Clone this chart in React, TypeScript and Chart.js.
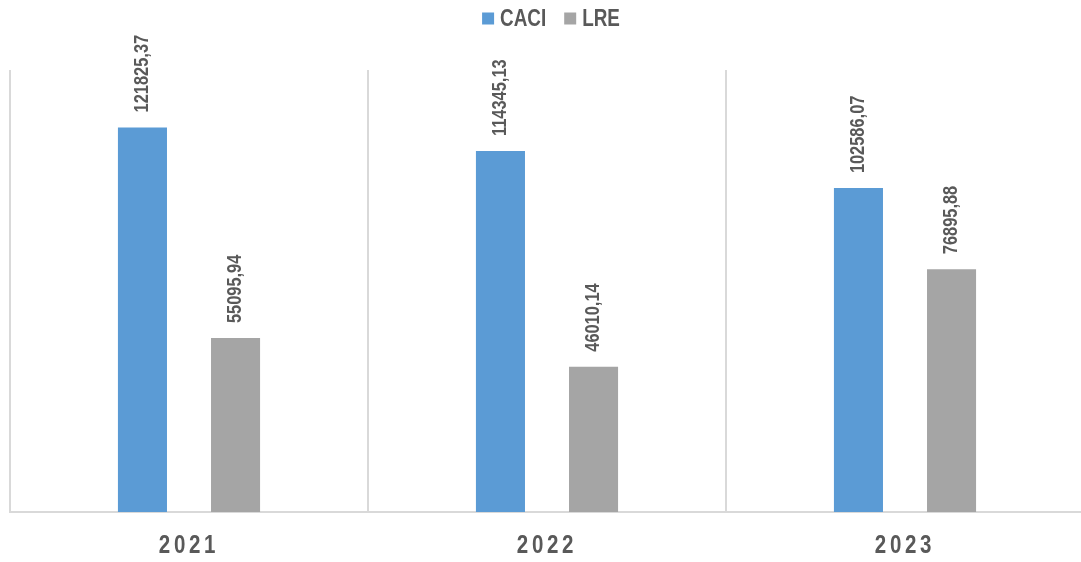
import React, { useEffect, useRef } from "react";
import { Chart, registerables } from "chart.js";

Chart.register(...registerables);

const categories = ["2021", "2022", "2023"];
const seriesNames = ["CACI", "LRE"];
const caciValues = [121825.37, 114345.13, 102586.07];
const lreValues = [55095.94, 46010.14, 76895.88];
const seriesColors = ["#5B9BD5", "#A5A5A5"];

const FONT = "'Liberation Sans', Arial, sans-serif";
const TEXT_COLOR = "#595959";
const NARROW = 0.82;

const formatValue = (v: number) => v.toFixed(2).replace(".", ",");

function narrowFill(ctx: any, text: string, x: number, y: number) {
  ctx.save();
  ctx.translate(x, y);
  ctx.scale(NARROW, 1);
  CanvasRenderingContext2D.prototype.fillText.call(ctx, text, 0, 0);
  ctx.restore();
}

const customPlugin = {
  id: "customDraw",
  beforeDraw(chart: any) {
    const xs = chart.scales.x;
    if (xs && !xs.__narrow) {
      const orig = xs.drawLabels;
      xs.drawLabels = function (area: any) {
        const ctx = this.ctx;
        ctx.save();
        (ctx as any).letterSpacing = "4.5px";
        ctx.fillText = function (t: string, x: number, y: number) {
          narrowFill(this, t, x, y);
        };
        orig.call(this, area);
        delete (ctx as any).fillText;
        ctx.restore();
      };
      xs.__narrow = true;
    }
  },
  afterDatasetsDraw(chart: any) {
    const ctx = chart.ctx;
    ctx.save();
    ctx.font = `bold 20px ${FONT}`;
    ctx.fillStyle = TEXT_COLOR;
    ctx.textAlign = "left";
    ctx.textBaseline = "middle";
    chart.data.datasets.forEach((ds: any, di: number) => {
      const meta = chart.getDatasetMeta(di);
      meta.data.forEach((el: any, i: number) => {
        ctx.save();
        ctx.translate(el.x, el.y - 15);
        ctx.rotate(-Math.PI / 2);
        narrowFill(ctx, formatValue(ds.data[i]), 0, 0);
        ctx.restore();
      });
    });
    ctx.restore();
  },
  afterDraw(chart: any) {
    const ctx = chart.ctx;
    ctx.save();
    ctx.font = `bold 23px ${FONT}`;
    ctx.textBaseline = "middle";
    ctx.textAlign = "left";
    const box = 12;
    const gapText = 6;
    const gapItem = 18;
    const widths = seriesNames.map((n) => ctx.measureText(n).width * NARROW);
    let total = 0;
    widths.forEach((w, i) => {
      total += box + gapText + w + (i < widths.length - 1 ? gapItem : 0);
    });
    const ca = chart.chartArea;
    let x = (ca.left + ca.right) / 2 - total / 2 + 4;
    const yc = 18.5;
    seriesNames.forEach((n, i) => {
      ctx.fillStyle = seriesColors[i];
      ctx.fillRect(x, yc - box / 2, box, box);
      x += box + gapText;
      ctx.fillStyle = TEXT_COLOR;
      narrowFill(ctx, n, x, yc + 1);
      x += widths[i] + gapItem;
    });
    ctx.restore();
  },
};

export default function App() {
  const ref = useRef<HTMLCanvasElement>(null);
  useEffect(() => {
    if (!ref.current) return;
    const chart = new Chart(ref.current, {
      type: "bar",
      data: {
        labels: categories,
        datasets: [
          {
            label: seriesNames[0],
            data: caciValues,
            backgroundColor: seriesColors[0],
            categoryPercentage: 0.52,
            barPercentage: 0.527,
          },
          {
            label: seriesNames[1],
            data: lreValues,
            backgroundColor: seriesColors[1],
            categoryPercentage: 0.52,
            barPercentage: 0.527,
          },
        ],
      },
      options: {
        animation: false,
        responsive: false,
        maintainAspectRatio: false,
        layout: { padding: { top: 70, left: 10, right: 16, bottom: 0 } },
        plugins: {
          legend: { display: false },
          tooltip: { enabled: false },
        },
        scales: {
          x: {
            afterFit(scale: any) {
              scale.height = 50;
            },
            grid: {
              offset: true,
              color: "#D9D9D9",
              lineWidth: 2,
              drawTicks: false,
            },
            border: { display: true, color: "#D9D9D9", width: 2 },
            ticks: {
              color: TEXT_COLOR,
              font: { family: FONT, size: 25, weight: "bold" },
              padding: 19,
            },
          },
          y: {
            display: false,
            min: 0,
            max: 140000,
          },
        },
      },
      plugins: [customPlugin],
    });
    return () => chart.destroy();
  }, []);
  return (
    <div
      style={{
        position: "fixed",
        left: 0,
        top: 0,
        width: 1081,
        height: 562,
        overflow: "hidden",
        background: "#fff",
      }}
    >
      <canvas ref={ref} width={1100} height={562} style={{ display: "block" }} />
    </div>
  );
}
